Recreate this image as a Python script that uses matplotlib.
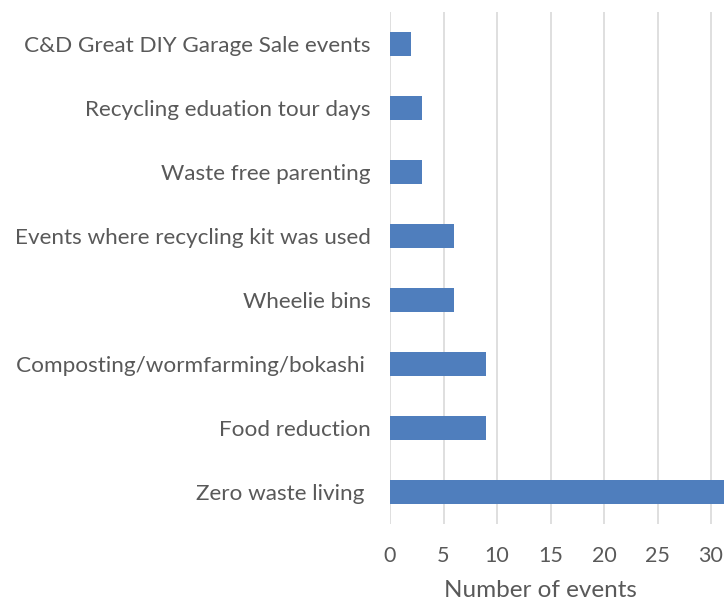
import matplotlib
matplotlib.use("Agg")
import matplotlib.pyplot as plt

categories = [
    "C&D Great DIY Garage Sale events",
    "Recycling eduation tour days",
    "Waste free parenting",
    "Events where recycling kit was used",
    "Wheelie bins",
    "Composting/wormfarming/bokashi ",
    "Food reduction",
    "Zero waste living ",
]
events = [2, 3, 3, 6, 6, 9, 9, 36]
x_ticks = [0, 5, 10, 15, 20, 25, 30]

plt.rcParams["font.family"] = ["Lato", "DejaVu Sans"]
text_color = "#595959"

fig = plt.figure(figsize=(7.24, 6), dpi=100)
# axes run past the right edge, like the cropped original
ax = fig.add_axes([390 / 724, 76 / 600, 428 / 724, 512 / 600])

ypos = list(range(len(categories)))
ax.barh(ypos, events, height=0.36, color="#4F7EBD", zorder=3)
ax.set_ylim(len(categories) - 0.5, -0.5)
ax.set_xlim(0, 40)
ax.set_yticks(ypos)
ax.set_yticklabels(categories, fontsize=16.2, color=text_color)
ax.set_xticks(x_ticks)
ax.set_xticklabels([str(t) for t in x_ticks], fontsize=15.5, color=text_color)
ax.tick_params(axis="x", length=0, pad=16)
ax.tick_params(axis="y", length=0, pad=14)

ax.grid(axis="x", color="#D9D9D9", linewidth=1.2, zorder=0)
for s in ax.spines.values():
    s.set_visible(False)

ax.set_xlabel("Number of events", fontsize=17.5, color=text_color)
ax.xaxis.set_label_coords((540 - 390) / 428, -0.11)

fig.savefig("out.png", dpi=100)
